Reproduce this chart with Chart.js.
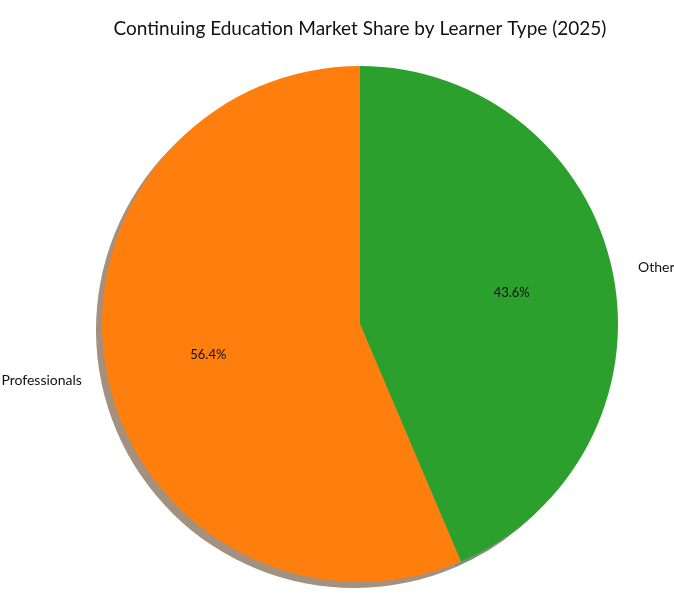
<!DOCTYPE html>
<html>
<head>
<meta charset="utf-8">
<script src="https://cdn.jsdelivr.net/npm/chart.js@4/dist/chart.umd.min.js"></script>
<style>
  html, body { margin: 0; padding: 0; background: #fff; }
  #wrap { width: 674px; height: 594px; }
</style>
</head>
<body>
<div id="wrap"><canvas id="chart"></canvas></div>
<script>
const title = "Continuing Education Market Share by Learner Type (2025)";
// drawn clockwise from 12 o'clock
const learnerTypes = ["Other", "Professionals"];
const shares = [43.6, 56.4];
const sliceColors = ["#2ca02c", "#ff7f0e"];
const shadowColors = ["#7e8f7a", "#a3907f"];

const FONT = "Lato, 'Open Sans', sans-serif";

const shadowPlugin = {
	id: "shadow",
	beforeDatasetsDraw(chart) {
		const { ctx } = chart;
		const arcs = chart.getDatasetMeta(0).data;
		ctx.save();
		arcs.forEach((arc, i) => {
			ctx.beginPath();
			ctx.moveTo(arc.x - 6, arc.y + 6);
			ctx.arc(arc.x - 6, arc.y + 6, arc.outerRadius, arc.startAngle, arc.endAngle);
			ctx.closePath();
			ctx.fillStyle = shadowColors[i];
			ctx.fill();
		});
		ctx.restore();
	}
};

const labelPlugin = {
	id: "pieLabels",
	afterDatasetsDraw(chart) {
		const { ctx } = chart;
		const arcs = chart.getDatasetMeta(0).data;
		ctx.save();
		ctx.fillStyle = "#111";
		ctx.textBaseline = "middle";
		arcs.forEach((arc, i) => {
			const mid = (arc.startAngle + arc.endAngle) / 2;
			const r = arc.outerRadius;
			ctx.font = `13px ${FONT}`;
			ctx.textAlign = "center";
			ctx.fillText(`${shares[i].toFixed(1)}%`, arc.x + Math.cos(mid) * r * 0.6, arc.y + Math.sin(mid) * r * 0.6);
			const lx = arc.x + Math.cos(mid) * r * 1.1;
			const ly = arc.y + Math.sin(mid) * r * 1.1;
			ctx.font = `14px ${FONT}`;
			ctx.textAlign = Math.cos(mid) >= 0 ? "left" : "right";
			ctx.fillText(learnerTypes[i], lx, ly);
		});
		ctx.font = `19px ${FONT}`;
		ctx.textAlign = "center";
		ctx.fillText(title, 360, 29);
		ctx.restore();
	}
};

new Chart(document.getElementById("chart"), {
	type: "pie",
	data: {
		labels: learnerTypes,
		datasets: [{
			data: shares,
			backgroundColor: sliceColors,
			borderWidth: 0,
			hoverOffset: 0
		}]
	},
	options: {
		responsive: true,
		maintainAspectRatio: false,
		animation: false,
		layout: { padding: { top: 66, bottom: 12, left: 102, right: 56 } },
		plugins: {
			legend: { display: false },
			tooltip: { enabled: false },
			title: { display: false }
		}
	},
	plugins: [shadowPlugin, labelPlugin]
});
</script>
</body>
</html>
